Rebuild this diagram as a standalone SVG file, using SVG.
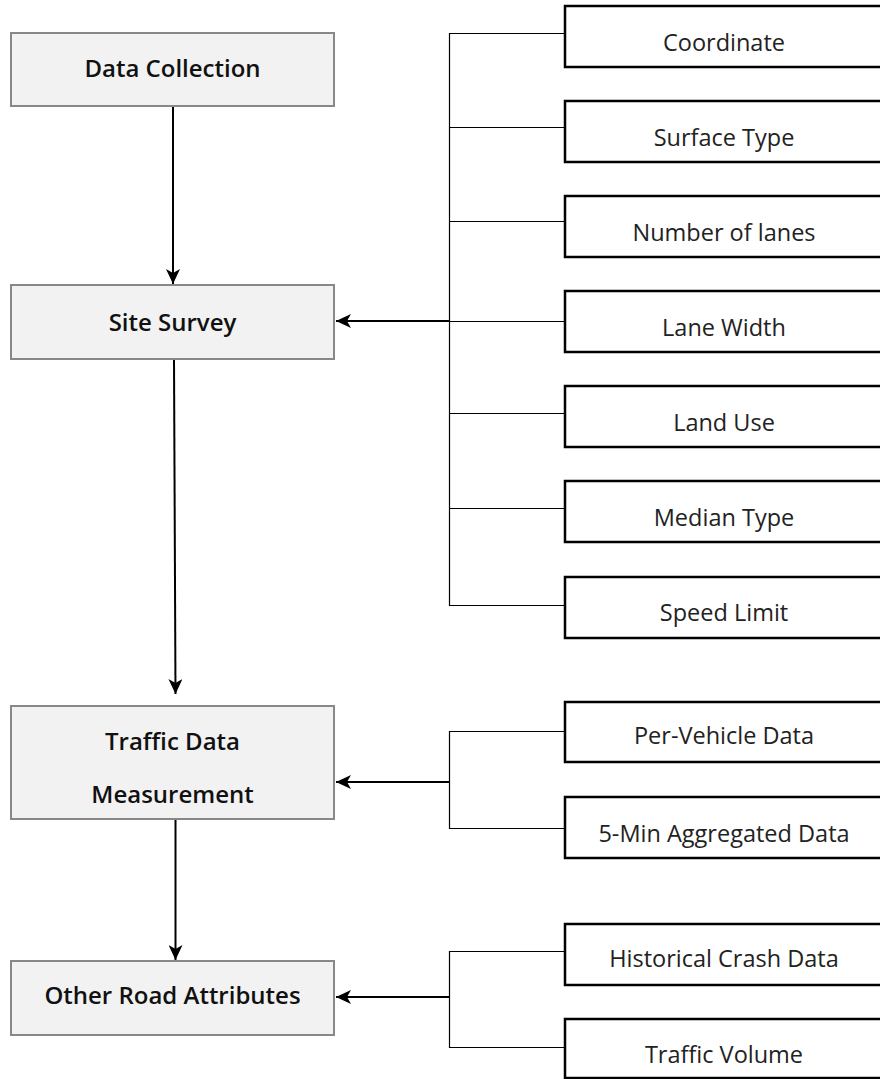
<svg xmlns="http://www.w3.org/2000/svg" width="880" height="1079" viewBox="0 0 880 1079">
<style>
.main{fill:#f2f2f2;stroke:#888;stroke-width:2}
.sub{fill:#fff;stroke:#000;stroke-width:2.5}
.mt{font-family:"Open Sans","Noto Sans",sans-serif;font-size:24px;font-weight:600;fill:#111;text-anchor:middle}
.st{font-family:"Open Sans","Noto Sans",sans-serif;font-size:23.5px;font-weight:400;fill:#222;text-anchor:middle}
.arr{stroke:#000;stroke-width:2;fill:none}
.br{stroke:#000;stroke-width:1.2;fill:none}
</style>
<defs>
<marker id="ah" markerWidth="16" markerHeight="14" refX="15" refY="7" orient="auto" markerUnits="userSpaceOnUse">
<path d="M0,0 L15,7 L0,14 L4,7 z" fill="#000"/>
</marker>
</defs>
<g id="connectors">
<line class="arr" x1="173" y1="106" x2="173" y2="284" marker-end="url(#ah)"/>
<line class="arr" x1="174" y1="359" x2="175.5" y2="694" marker-end="url(#ah)"/>
<line class="arr" x1="175.5" y1="819" x2="175.5" y2="960" marker-end="url(#ah)"/>
<path class="br" d="M565,33.5 H449.5 V605.5 H565 M449.5,127.5 H565 M449.5,221.5 H565 M449.5,321.5 H565 M449.5,413.5 H565 M449.5,508.5 H565"/>
<line class="arr" x1="449" y1="321" x2="336" y2="321" marker-end="url(#ah)"/>
<path class="br" d="M565,731.5 H449.5 V828.5 H565"/>
<line class="arr" x1="449" y1="782" x2="336" y2="782" marker-end="url(#ah)"/>
<path class="br" d="M565,951.5 H449.5 V1047.5 H565"/>
<line class="arr" x1="449" y1="997" x2="336" y2="997" marker-end="url(#ah)"/>
</g>
<g id="data-collection"><rect class="main" x="11" y="33" width="323" height="73"/><text class="mt" x="172.5" y="77">Data Collection</text></g>
<g id="site-survey"><rect class="main" x="11" y="285" width="323" height="74"/><text class="mt" x="172.5" y="331">Site Survey</text></g>
<g id="traffic-data"><rect class="main" x="11" y="706" width="323" height="113"/><text class="mt" x="172.5" y="750">Traffic Data</text><text class="mt" x="172.5" y="803">Measurement</text></g>
<g id="other-road"><rect class="main" x="11" y="961" width="323" height="74"/><text class="mt" x="172.5" y="1004">Other Road Attributes</text></g>
<g id="coordinate"><rect class="sub" x="565" y="6" width="330" height="61"/><text class="st" x="724" y="51">Coordinate</text></g>
<g id="surface-type"><rect class="sub" x="565" y="101" width="330" height="61"/><text class="st" x="724" y="146">Surface Type</text></g>
<g id="number-of-lanes"><rect class="sub" x="565" y="196" width="330" height="61"/><text class="st" x="724" y="241">Number of lanes</text></g>
<g id="lane-width"><rect class="sub" x="565" y="291" width="330" height="61"/><text class="st" x="724" y="336">Lane Width</text></g>
<g id="land-use"><rect class="sub" x="565" y="386" width="330" height="61"/><text class="st" x="724" y="431">Land Use</text></g>
<g id="median-type"><rect class="sub" x="565" y="481" width="330" height="61"/><text class="st" x="724" y="526">Median Type</text></g>
<g id="speed-limit"><rect class="sub" x="565" y="577" width="330" height="61"/><text class="st" x="724" y="621">Speed Limit</text></g>
<g id="per-vehicle"><rect class="sub" x="565" y="702" width="330" height="60"/><text class="st" x="724" y="744">Per-Vehicle Data</text></g>
<g id="five-min"><rect class="sub" x="565" y="797" width="330" height="61"/><text class="st" x="724" y="842">5-Min Aggregated Data</text></g>
<g id="historical-crash"><rect class="sub" x="565" y="924" width="330" height="61"/><text class="st" x="724" y="967">Historical Crash Data</text></g>
<g id="traffic-volume"><rect class="sub" x="565" y="1019" width="330" height="59"/><text class="st" x="724" y="1063">Traffic Volume</text></g>
</svg>
